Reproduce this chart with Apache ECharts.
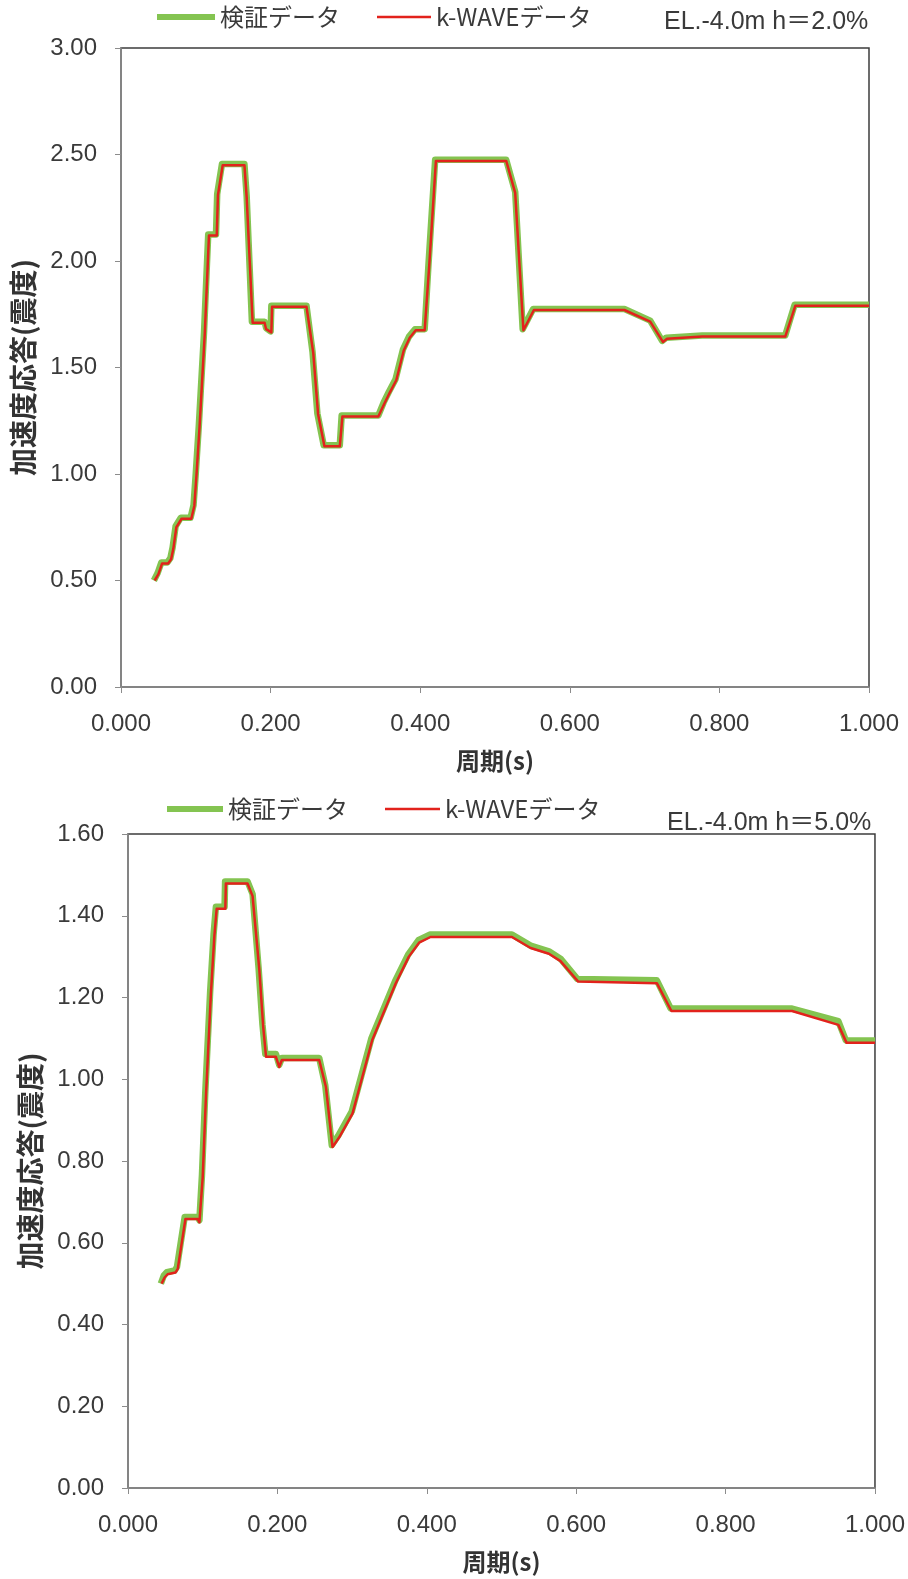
<!DOCTYPE html>
<html>
<head>
<meta charset="utf-8">
<script src="https://cdn.jsdelivr.net/npm/echarts@6/dist/echarts.min.js"></script>
<style>
html,body{margin:0;padding:0;background:#fff;}
#chart{width:908px;height:1579px;}
</style>
</head>
<body>
<div id="chart"></div>
<script>
// ---- Data ----
const seriesNames = ['検証データ', 'k-WAVEデータ'];
const chartLabels = ['EL.-4.0m h＝2.0%', 'EL.-4.0m h＝5.0%'];
const xAxisTitle = '周期(s)';
const yAxisTitle = '加速度応答(震度)';
const xTicks = [0.0, 0.2, 0.4, 0.6, 0.8, 1.0];
const yTicksTop = [0.0, 0.5, 1.0, 1.5, 2.0, 2.5, 3.0];
const yTicksBottom = [0.0, 0.2, 0.4, 0.6, 0.8, 1.0, 1.2, 1.4, 1.6];

// Top chart (h = 2.0%)
const topPeriodVerify = [0.044,0.049,0.051,0.054,0.062,0.066,0.069,0.073,0.080,0.093,0.097,0.100,0.104,0.111,0.1166,0.127,0.1286,0.135,0.165,0.168,0.175,0.192,0.194,0.200,0.201,0.248,0.256,0.2625,0.271,0.2925,0.295,0.344,0.351,0.358,0.367,0.377,0.385,0.393,0.406,0.411,0.420,0.515,0.527,0.537,0.551,0.673,0.7075,0.7235,0.729,0.777,0.888,0.9006,1.000];
const topAccelVerify  = [0.50,0.535,0.555,0.585,0.585,0.605,0.655,0.755,0.795,0.795,0.855,1.005,1.225,1.665,2.125,2.125,2.315,2.455,2.455,2.305,1.715,1.715,1.685,1.67,1.79,1.79,1.575,1.285,1.135,1.135,1.275,1.275,1.335,1.385,1.445,1.585,1.645,1.68,1.68,1.98,2.475,2.475,2.325,1.68,1.775,1.775,1.72,1.625,1.64,1.65,1.65,1.795,1.795];
const topPeriodKwave  = [0.045,0.050,0.052,0.055,0.063,0.067,0.070,0.074,0.081,0.094,0.098,0.101,0.105,0.112,0.1176,0.128,0.1296,0.136,0.165,0.168,0.176,0.192,0.194,0.201,0.202,0.248,0.257,0.2635,0.272,0.2925,0.296,0.344,0.352,0.359,0.368,0.378,0.386,0.394,0.406,0.412,0.421,0.515,0.527,0.538,0.552,0.673,0.7075,0.7245,0.730,0.777,0.888,0.9016,1.000];
const topAccelKwave   = [0.50,0.53,0.55,0.58,0.58,0.60,0.65,0.75,0.79,0.79,0.85,1.00,1.22,1.66,2.12,2.12,2.31,2.45,2.45,2.30,1.71,1.71,1.68,1.665,1.785,1.785,1.57,1.28,1.13,1.13,1.27,1.27,1.33,1.38,1.44,1.58,1.64,1.675,1.675,1.975,2.47,2.47,2.32,1.675,1.77,1.77,1.715,1.62,1.635,1.645,1.645,1.79,1.79];

// Bottom chart (h = 5.0%)
const botPeriodVerify = [0.044,0.048,0.052,0.0625,0.0656,0.0759,0.0933,0.0956,0.099,0.1035,0.110,0.1146,0.1177,0.1293,0.130,0.160,0.1668,0.1748,0.180,0.1838,0.198,0.2025,0.206,0.256,0.264,0.2728,0.2818,0.2995,0.326,0.3575,0.375,0.3887,0.404,0.514,0.539,0.5635,0.579,0.6017,0.708,0.7265,0.889,0.951,0.961,1.000];
const botAccelVerify  = [0.50,0.52,0.528,0.532,0.541,0.663,0.663,0.655,0.765,0.97,1.215,1.355,1.422,1.422,1.484,1.484,1.453,1.273,1.134,1.062,1.062,1.035,1.052,1.052,0.986,0.839,0.863,0.921,1.101,1.24,1.305,1.34,1.354,1.354,1.327,1.313,1.295,1.245,1.242,1.173,1.173,1.142,1.095,1.095];
const botPeriodKwave  = [0.045,0.049,0.053,0.0635,0.0666,0.0769,0.0933,0.0956,0.100,0.1045,0.111,0.1156,0.1187,0.1303,0.131,0.160,0.1668,0.1758,0.181,0.1848,0.198,0.2025,0.206,0.256,0.265,0.2738,0.2828,0.3005,0.327,0.3585,0.376,0.3897,0.405,0.514,0.539,0.5635,0.579,0.6027,0.708,0.7275,0.889,0.951,0.962,1.000];
const botAccelKwave   = [0.50,0.515,0.523,0.527,0.536,0.658,0.658,0.65,0.76,0.965,1.21,1.35,1.417,1.417,1.479,1.479,1.448,1.268,1.129,1.055,1.055,1.030,1.047,1.047,0.981,0.834,0.858,0.916,1.096,1.235,1.30,1.334,1.348,1.348,1.321,1.307,1.289,1.239,1.235,1.167,1.167,1.133,1.089,1.089];

// ---- Build ----
const pairs = (xs, ys) => xs.map((x, i) => [x, ys[i]]);
const FONT = "'Liberation Sans','Noto Sans CJK JP',sans-serif";
const CJK = "'Noto Sans CJK JP','Liberation Sans',sans-serif";
const GREEN = '#84c451';
const RED = '#e2221c';
const TXT = '#3a3a3a';

function xAxisCfg(gridIndex) {
  return {
    type: 'value', gridIndex,
    min: xTicks[0], max: xTicks[xTicks.length - 1],
    interval: xTicks[1] - xTicks[0],
    name: xAxisTitle, nameLocation: 'middle', nameGap: 62,
    nameTextStyle: { fontFamily: CJK, fontSize: 24, fontWeight: 'bold', color: '#333' },
    axisLine: { show: true, lineStyle: { color: '#8c8c8c', width: 1.5 } },
    axisTick: { show: true, inside: false, length: 6, lineStyle: { color: '#8c8c8c' } },
    axisLabel: { margin: 25, fontFamily: FONT, fontSize: 24, color: TXT,
      formatter: v => v.toFixed(3) },
    splitLine: { show: false }
  };
}
function yAxisCfg(gridIndex, ticks) {
  return {
    type: 'value', gridIndex,
    min: ticks[0], max: ticks[ticks.length - 1],
    interval: ticks[1] - ticks[0],
    name: yAxisTitle, nameLocation: 'middle', nameGap: 84, nameRotate: 90,
    nameTextStyle: { fontFamily: CJK, fontSize: 28, fontWeight: 'bold', color: '#333' },
    axisLine: { show: true, lineStyle: { color: '#8c8c8c', width: 1.5 } },
    axisTick: { show: true, inside: false, length: 6, lineStyle: { color: '#8c8c8c' } },
    axisLabel: { margin: 24, fontFamily: FONT, fontSize: 24, color: TXT,
      formatter: v => v.toFixed(2) },
    splitLine: { show: false }
  };
}
function legendCfg(name, left, top, w, h) {
  return {
    data: [name], left, top, icon: 'rect', itemWidth: w, itemHeight: h,
    itemGap: 0, padding: 0,
    textStyle: { fontFamily: CJK, fontSize: 24, color: TXT }
  };
}
function lineSeries(name, xi, data, color, width, z) {
  return {
    name, type: 'line', xAxisIndex: xi, yAxisIndex: xi,
    data, showSymbol: false, symbol: 'none', smooth: false,
    itemStyle: { color }, lineStyle: { color, width, join: 'round' },
    z, animation: false
  };
}

const option = {
  backgroundColor: '#fff',
  animation: false,
  grid: [
    { left: 121, top: 48, width: 748, height: 639, show: true, borderColor: '#3c3c3c', borderWidth: 1.5, backgroundColor: 'transparent' },
    { left: 128, top: 834, width: 749, height: 654, show: true, borderColor: '#3c3c3c', borderWidth: 1.5, backgroundColor: 'transparent' }
  ],
  title: [
    { text: chartLabels[0], left: 659, top: 5, textStyle: { fontFamily: FONT, fontSize: 25, fontWeight: 'normal', color: TXT } },
    { text: chartLabels[1], left: 662, top: 806, textStyle: { fontFamily: FONT, fontSize: 25, fontWeight: 'normal', color: TXT } }
  ],
  legend: [
    legendCfg(seriesNames[0], 157, 5, 58, 6),
    legendCfg(seriesNames[1], 377, 5, 54, 2.5),
    legendCfg(seriesNames[0], 167, 797, 56, 6),
    legendCfg(seriesNames[1], 385, 797, 55, 2.5)
  ],
  xAxis: [xAxisCfg(0), xAxisCfg(1)],
  yAxis: [yAxisCfg(0, yTicksTop), yAxisCfg(1, yTicksBottom)],
  series: [
    lineSeries(seriesNames[0], 0, pairs(topPeriodVerify, topAccelVerify), GREEN, 6.5, 2),
    lineSeries(seriesNames[1], 0, pairs(topPeriodKwave, topAccelKwave), RED, 2.5, 3),
    lineSeries(seriesNames[0], 1, pairs(botPeriodVerify, botAccelVerify), GREEN, 6.5, 2),
    lineSeries(seriesNames[1], 1, pairs(botPeriodKwave, botAccelKwave), RED, 2.5, 3)
  ]
};

const chart = echarts.init(document.getElementById('chart'), null, { renderer: 'canvas' });
chart.setOption(option);
</script>
</body>
</html>
